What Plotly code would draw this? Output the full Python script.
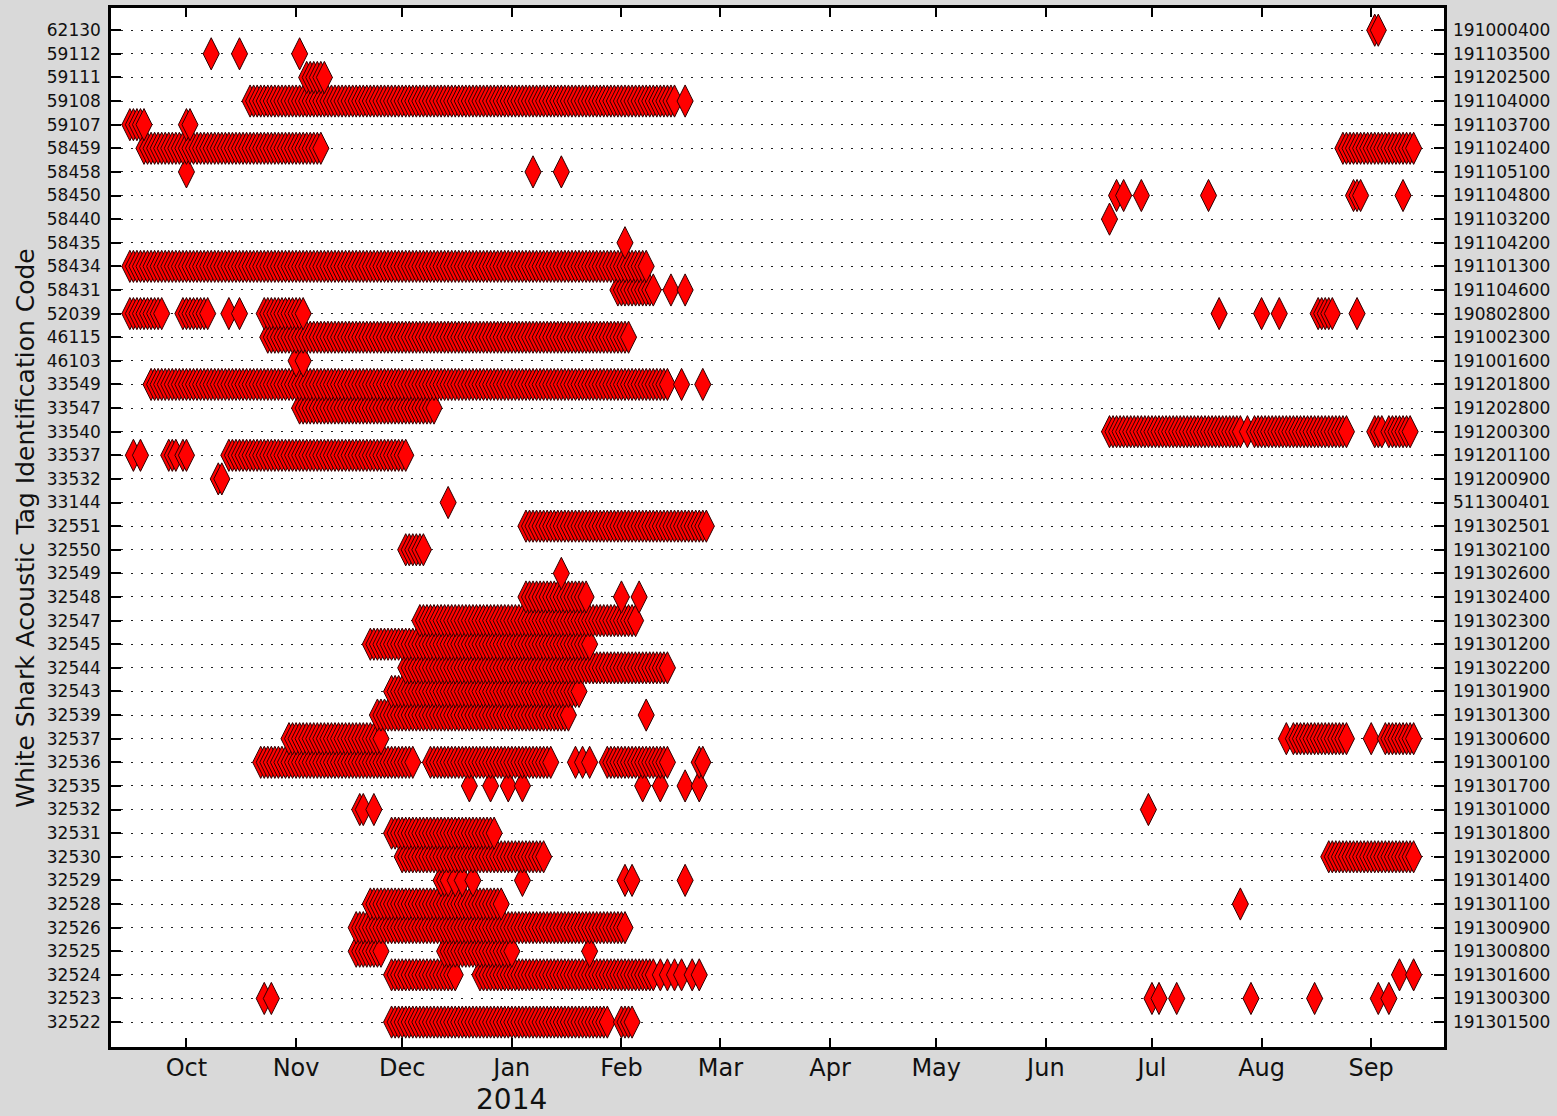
import plotly.graph_objects as go

# Tag codes (bottom -> top) and the receiver ids shown on the right axis
codes = ["32522", "32523", "32524", "32525", "32526", "32528", "32529", "32530", "32531", "32532",
         "32535", "32536", "32537", "32539", "32543", "32544", "32545", "32547", "32548", "32549",
         "32550", "32551", "33144", "33532", "33537", "33540", "33547", "33549", "46103", "46115",
         "52039", "58431", "58434", "58435", "58440", "58450", "58458", "58459", "59107", "59108",
         "59111", "59112", "62130"]
receivers = ["191301500", "191300300", "191301600", "191300800", "191300900", "191301100", "191301400",
             "191302000", "191301800", "191301000", "191301700", "191300100", "191300600", "191301300",
             "191301900", "191302200", "191301200", "191302300", "191302400", "191302600", "191302100",
             "191302501", "511300401", "191200900", "191201100", "191200300", "191202800", "191201800",
             "191001600", "191002300", "190802800", "191104600", "191101300", "191104200", "191103200",
             "191104800", "191105100", "191102400", "191103700", "191104000", "191202500", "191103500",
             "191000400"]
month_ticks = ["2013-10-01", "2013-11-01", "2013-12-01", "2014-01-01", "2014-02-01", "2014-03-01",
               "2014-04-01", "2014-05-01", "2014-06-01", "2014-07-01", "2014-08-01", "2014-09-01"]
month_labels = ["Oct", "Nov", "Dec", "Jan", "Feb", "Mar", "Apr", "May", "Jun", "Jul", "Aug", "Sep"]

# Detection days per tag, written as "year-month: day day ...; year-month: ..."
d_32522 = """2013-11: 28 29 30; 2013-12: 1 2 3 4 5 6 7 8 9 10 11 12 13 14 15 16 17 18 19 20 21 22 23 24 25 26 27 28 29 30 31;
2014-01: 1 2 3 4 5 6 7 8 9 10 11 12 13 14 15 16 17 18 19 20 21 22 23 24 25 26 27 28; 2014-02: 1 2 3 4"""
d_32523 = "2013-10: 23 25; 2014-07: 1 3 8 29; 2014-08: 16; 2014-09: 3 6"
d_32524 = """2013-11: 28 29 30; 2013-12: 1 2 3 4 5 6 7 8 9 10 11 12 13 14 15 16 23 24 25 26 27 28 29 30 31;
2014-01: 1 2 3 4 5 6 7 8 9 10 11 12 13 14 15 16 17 18 19 20 21 22 23 24 25 26 27 28 29 30 31;
2014-02: 1 2 3 4 5 6 7 8 9 10 12 14 16 18 21 23; 2014-09: 9 13"""
d_32525 = """2013-11: 18 19 20 21 22 23 24 25; 2013-12: 13 14 15 16 17 18 19 20 21 22 23 24 25 26 27 28 29 30 31;
2014-01: 1 23"""
d_32526 = """2013-11: 18 19 20 21 22 23 24 25 26 27 28 29 30;
2013-12: 1 2 3 4 5 6 7 8 9 10 11 12 13 14 15 16 17 18 19 20 21 22 23 24 25 26 27 28 29 30 31;
2014-01: 1 2 3 4 5 6 7 8 9 10 11 12 13 14 15 16 17 18 19 20 21 22 23 24 25 26 27 28 29 30 31; 2014-02: 1 2"""
d_32528 = """2013-11: 22 23 24 25 26 27 28 29 30;
2013-12: 1 2 3 4 5 6 7 8 9 10 11 12 13 14 15 16 17 18 19 20 21 22 23 24 25 26 27 28 29; 2014-07: 26"""
d_32529 = "2013-12: 12 13 14 16 18 21; 2014-01: 4; 2014-02: 2 4 19"
d_32530 = """2013-12: 1 2 3 4 5 6 7 8 9 10 11 12 13 14 15 16 17 18 19 20 21 22 23 24 25 26 27 28 29 30 31;
2014-01: 1 2 3 4 5 6 7 8 9 10; 2014-08: 20 21 22 23 24 25 26 27 28 29 30 31;
2014-09: 1 2 3 4 5 6 7 8 9 10 11 12 13"""
d_32531 = """2013-11: 28 29 30;
2013-12: 1 2 3 4 5 6 7 8 9 10 11 12 13 14 15 16 17 18 19 20 21 22 23 24 25 26 27"""
d_32532 = "2013-11: 19 20 23; 2014-06: 30"
d_32535 = "2013-12: 20 26 31; 2014-01: 4; 2014-02: 7 12 19 23"
d_32536 = """2013-10: 22 23 24 25 26 27 28 29 30 31;
2013-11: 1 2 3 4 5 6 7 8 9 10 11 12 13 14 15 16 17 18 19 20 21 22 23 24 25 26 27 28 29 30;
2013-12: 1 2 3 4 9 10 11 12 13 14 15 16 17 18 19 20 21 22 23 24 25 26 27 28 29 30 31;
2014-01: 1 2 3 4 5 6 7 8 9 10 11 12 19 21 23 28 29 30 31;
2014-02: 1 2 3 4 5 6 7 8 9 10 11 12 13 14 23 24"""
d_32537 = """2013-10: 30 31; 2013-11: 1 2 3 4 5 6 7 8 9 10 11 12 13 14 15 16 17 18 19 20 21 22 23 24 25;
2014-08: 8 10 11 12 13 14 15 16 17 18 19 20 21 22 23 24 25; 2014-09: 1 5 6 7 8 9 10 11 12 13"""
d_32539 = """2013-11: 24 25 26 27 28 29 30;
2013-12: 1 2 3 4 5 6 7 8 9 10 11 12 13 14 15 16 17 18 19 20 21 22 23 24 25 26 27 28 29 30 31;
2014-01: 1 2 3 4 5 6 7 8 9 10 11 12 13 14 15 16 17; 2014-02: 8"""
d_32543 = """2013-11: 28 29 30;
2013-12: 1 2 3 4 5 6 7 8 9 10 11 12 13 14 15 16 17 18 19 20 21 22 23 24 25 26 27 28 29 30 31;
2014-01: 1 2 3 4 5 6 7 8 9 10 11 12 13 14 15 16 17 18 19 20"""
d_32544 = """2013-12: 2 3 4 5 6 7 8 9 10 11 12 13 14 15 16 17 18 19 20 21 22 23 24 25 26 27 28 29 30 31;
2014-01: 1 2 3 4 5 6 7 8 9 10 11 12 13 14 15 16 17 18 19 20 21 22 23 24 25 26 27 28 29 30 31;
2014-02: 1 2 3 4 5 6 7 8 9 10 11 12 13 14"""
d_32545 = """2013-11: 22 23 24 25 26 27 28 29 30;
2013-12: 1 2 3 4 5 6 7 8 9 10 11 12 13 14 15 16 17 18 19 20 21 22 23 24 25 26 27 28 29 30 31;
2014-01: 1 2 3 4 5 6 7 8 9 10 11 12 13 14 15 16 17 18 19 20 21 22 23"""
d_32547 = """2013-12: 6 7 8 9 10 11 12 13 14 15 16 17 18 19 20 21 22 23 24 25 26 27 28 29 30 31;
2014-01: 1 2 3 4 5 6 7 8 9 10 11 12 13 14 15 16 17 18 19 20 21 22 23 24 25 26 27 28 29 30 31;
2014-02: 1 2 3 4 5"""
d_32548 = "2014-01: 5 6 7 8 9 10 11 12 13 14 15 16 17 18 19 20 21 22; 2014-02: 1 6"
d_32549 = "2014-01: 15"
d_32550 = "2013-12: 2 3 4 5 6 7"
d_32551 = """2014-01: 5 6 7 8 9 10 11 12 13 14 15 16 17 18 19 20 21 22 23 24 25 26 27 28 29 30 31;
2014-02: 1 2 3 4 5 6 7 8 9 10 11 12 13 14 15 16 17 18 19 20 21 22 23 24 25"""
d_33144 = "2013-12: 14"
d_33532 = "2013-10: 10 11"
d_33537 = """2013-09: 16 18 26 27 28 30; 2013-10: 1 13 14 15 16 17 18 19 20 21 22 23 24 25 26 27 28 29 30 31;
2013-11: 1 2 3 4 5 6 7 8 9 10 11 12 13 14 15 16 17 18 19 20 21 22 23 24 25 26 27 28 29 30; 2013-12: 1 2"""
d_33540 = """2014-06: 19 20 21 22 23 24 25 26 27 28 29 30;
2014-07: 1 2 3 4 5 6 7 8 9 10 11 12 13 14 15 16 17 18 19 20 21 22 23 24 25 26 28 30 31;
2014-08: 1 2 3 4 5 6 7 8 9 10 11 12 13 14 15 16 17 18 19 20 21 22 23 24 25;
2014-09: 2 3 4 6 7 8 9 10 11 12"""
d_33547 = """2013-11: 2 3 4 5 6 7 8 9 10 11 12 13 14 15 16 17 18 19 20 21 22 23 24 25 26 27 28 29 30;
2013-12: 1 2 3 4 5 6 7 8 9 10"""
d_33549 = """2013-09: 21 22 23 24 25 26 27 28 29 30;
2013-10: 1 2 3 4 5 6 7 8 9 10 11 12 13 14 15 16 17 18 19 20 21 22 23 24 25 26 27 28 29 30 31;
2013-11: 1 2 3 4 5 6 7 8 9 10 11 12 13 14 15 16 17 18 19 20 21 22 23 24 25 26 27 28 29 30;
2013-12: 1 2 3 4 5 6 7 8 9 10 11 12 13 14 15 16 17 18 19 20 21 22 23 24 25 26 27 28 29 30 31;
2014-01: 1 2 3 4 5 6 7 8 9 10 11 12 13 14 15 16 17 18 19 20 21 22 23 24 25 26 27 28 29 30 31;
2014-02: 1 2 3 4 5 6 7 8 9 10 11 12 13 14 18 24"""
d_46103 = "2013-11: 1 3"
d_46115 = """2013-10: 24 25 26 27 28 29 30 31;
2013-11: 1 2 3 4 5 6 7 8 9 10 11 12 13 14 15 16 17 18 19 20 21 22 23 24 25 26 27 28 29 30;
2013-12: 1 2 3 4 5 6 7 8 9 10 11 12 13 14 15 16 17 18 19 20 21 22 23 24 25 26 27 28 29 30 31;
2014-01: 1 2 3 4 5 6 7 8 9 10 11 12 13 14 15 16 17 18 19 20 21 22 23 24 25 26 27 28 29 30 31;
2014-02: 1 2 3"""
d_52039 = """2013-09: 15 16 17 18 19 20 21 22 23 24 30; 2013-10: 1 2 3 4 5 6 7 13 16 23 24 25 26 27 28 29 30 31;
2013-11: 1 2 3; 2014-07: 20; 2014-08: 1 6 17 18 19 20 21 28"""
d_58431 = "2014-01: 31; 2014-02: 1 2 3 4 5 6 7 8 9 10 15 19"
d_58434 = """2013-09: 15 16 17 18 19 20 21 22 23 24 25 26 27 28 29 30;
2013-10: 1 2 3 4 5 6 7 8 9 10 11 12 13 14 15 16 17 18 19 20 21 22 23 24 25 26 27 28 29 30 31;
2013-11: 1 2 3 4 5 6 7 8 9 10 11 12 13 14 15 16 17 18 19 20 21 22 23 24 25 26 27 28 29 30;
2013-12: 1 2 3 4 5 6 7 8 9 10 11 12 13 14 15 16 17 18 19 20 21 22 23 24 25 26 27 28 29 30 31;
2014-01: 1 2 3 4 5 6 7 8 9 10 11 12 13 14 15 16 17 18 19 20 21 22 23 24 25 26 27 28 29 30 31;
2014-02: 1 2 3 4 5 6 7 8"""
d_58435 = "2014-02: 2"
d_58440 = "2014-06: 19"
d_58450 = "2014-06: 21 23 28; 2014-07: 17; 2014-08: 27 28 29; 2014-09: 10"
d_58458 = "2013-10: 1; 2014-01: 7 15"
d_58459 = """2013-09: 19 20 21 22 23 24 25 26 27 28 29 30;
2013-10: 1 2 3 4 5 6 7 8 9 10 11 12 13 14 15 16 17 18 19 20 21 22 23 24 25 26 27 28 29 30 31;
2013-11: 1 2 3 4 5 6 7 8; 2014-08: 24 25 26 27 28 29 30 31; 2014-09: 1 2 3 4 5 6 7 8 9 10 11 12 13"""
d_59107 = "2013-09: 15 16 17 18 19; 2013-10: 1 2"
d_59108 = """2013-10: 19 20 21 22 23 24 25 26 27 28 29 30 31;
2013-11: 1 2 3 4 5 6 7 8 9 10 11 12 13 14 15 16 17 18 19 20 21 22 23 24 25 26 27 28 29 30;
2013-12: 1 2 3 4 5 6 7 8 9 10 11 12 13 14 15 16 17 18 19 20 21 22 23 24 25 26 27 28 29 30 31;
2014-01: 1 2 3 4 5 6 7 8 9 10 11 12 13 14 15 16 17 18 19 20 21 22 23 24 25 26 27 28 29 30 31;
2014-02: 1 2 3 4 5 6 7 8 9 10 11 12 13 14 15 16 19"""
d_59111 = "2013-11: 4 5 6 7 8 9"
d_59112 = "2013-10: 8 16; 2013-11: 2"
d_62130 = "2014-09: 2 3"

detections = [d_32522, d_32523, d_32524, d_32525, d_32526, d_32528, d_32529, d_32530, d_32531,
              d_32532, d_32535, d_32536, d_32537, d_32539, d_32543, d_32544, d_32545, d_32547,
              d_32548, d_32549, d_32550, d_32551, d_33144, d_33532, d_33537, d_33540, d_33547,
              d_33549, d_46103, d_46115, d_52039, d_58431, d_58434, d_58435, d_58440, d_58450,
              d_58458, d_58459, d_59107, d_59108, d_59111, d_59112, d_62130]


def parse_days(spec):
    out = []
    for part in spec.split(";"):
        ym, days = part.split(":")
        out.extend(f"{ym.strip()}-{int(d):02d}" for d in days.split())
    return out


xs, ys, ys_rcv = [], [], []
for code, rcv, spec in zip(codes, receivers, detections):
    dates = parse_days(spec)
    xs.extend(dates)
    ys.extend([code] * len(dates))
    ys_rcv.extend([rcv] * len(dates))

FONT = "DejaVu Sans"
n = len(codes)
yrange = [-1.055, n - 1 + 0.94]

fig = go.Figure()
fig.add_trace(go.Scatter(
    x=xs, y=ys, mode="markers", showlegend=False, hoverinfo="x+y",
    marker=dict(symbol="diamond-tall", size=23, color="#ff0000",
                line=dict(color="rgb(45,0,0)", width=1)),
))
# same detections against the receiver axis (transparent: only carries the right axis)
fig.add_trace(go.Scatter(
    x=xs, y=ys_rcv, yaxis="y2", mode="markers", showlegend=False, hoverinfo="skip",
    marker=dict(size=1, opacity=0),
))

fig.update_layout(
    width=1557, height=1116,
    margin=dict(l=111, r=113, t=5, b=69),
    paper_bgcolor="#d9d9d9", plot_bgcolor="#ffffff",
    font=dict(family=FONT, color="#111111"),
    xaxis=dict(
        type="date", range=["2013-09-09 16:00", "2014-09-21 14:00"],
        tickmode="array", tickvals=month_ticks, ticktext=month_labels,
        ticks="inside", ticklen=9, tickwidth=1.5, tickcolor="#000000",
        showline=True, linecolor="#000000", linewidth=2.5, mirror="ticks",
        showgrid=False, zeroline=False,
        tickfont=dict(size=24, family=FONT, color="#111111"),
        ticklabelstandoff=-3,
    ),
    yaxis=dict(
        type="category", categoryorder="array", categoryarray=codes, range=yrange,
        ticks="inside", ticklen=10, tickwidth=1.5, tickcolor="#000000",
        showline=True, linecolor="#000000", linewidth=2.5, mirror=True,
        showgrid=True, gridcolor="#222222", gridwidth=1, griddash="2px,8px",
        zeroline=False, tickfont=dict(size=17, family=FONT, color="#111111"),
        ticklabelstandoff=4,
    ),
    yaxis2=dict(
        type="category", categoryorder="array", categoryarray=receivers,
        overlaying="y", side="right", anchor="x", range=yrange,
        ticks="inside", ticklen=10, tickwidth=1.5, tickcolor="#000000",
        showline=False, showgrid=False, zeroline=False,
        tickfont=dict(size=17, family=FONT, color="#111111"),
        ticklabelstandoff=8,
    ),
    annotations=[
        dict(text="White Shark Acoustic Tag Identification Code", xref="paper", yref="paper",
             x=-0.0643, y=0.5, xanchor="center", yanchor="middle", textangle=-90,
             showarrow=False, font=dict(size=25, family=FONT, color="#111111")),
        dict(text="2014", xref="x", yref="paper", x="2014-01-01", y=-0.0505,
             xanchor="center", yanchor="middle", showarrow=False,
             font=dict(size=28, family=FONT, color="#111111")),
    ],
)

fig.write_html(
    "out.html",
    config={"displayModeBar": False},
    post_script="document.body.style.margin='0';document.body.style.overflow='hidden';",
)
